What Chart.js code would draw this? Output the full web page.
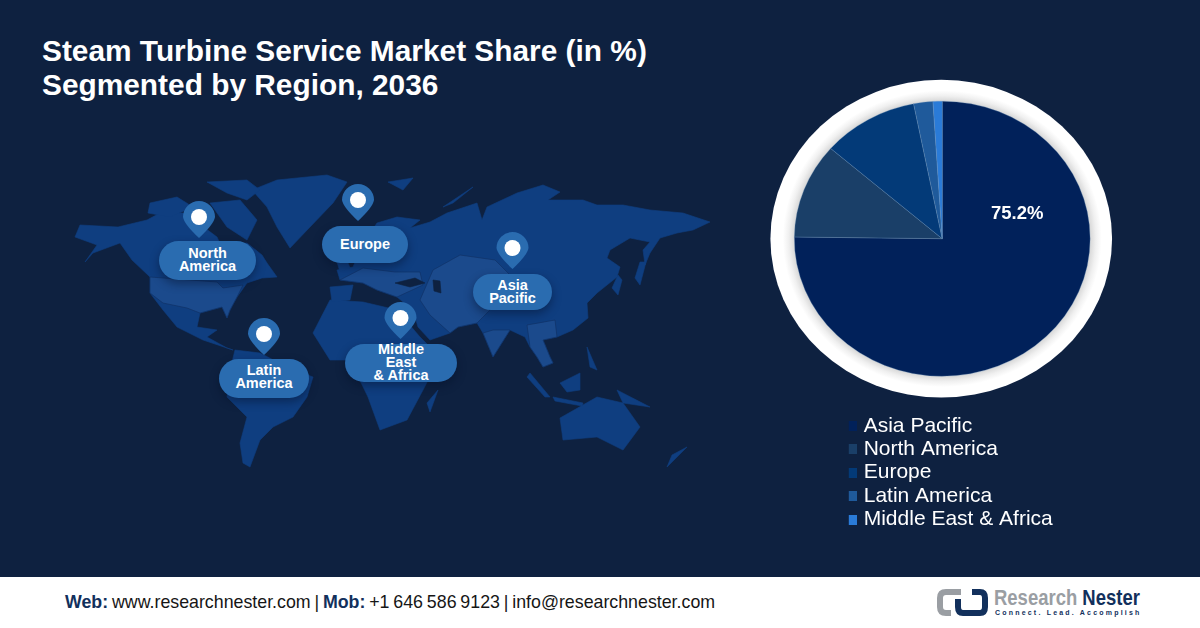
<!DOCTYPE html>
<html><head><meta charset="utf-8">
<script src="https://cdn.jsdelivr.net/npm/chart.js@4"></script>
<style>
html,body{margin:0;padding:0;width:1200px;height:628px;overflow:hidden;background:#0e2140;font-family:"Liberation Sans",Arial,sans-serif}
#map,#cv,.abs{position:absolute}
#map{left:0;top:0}
#cv{left:0;top:0}
h1{position:absolute;left:42px;top:34px;margin:0;color:#fff;font-size:29.85px;line-height:34px;font-weight:700;white-space:nowrap}
.pill{position:absolute;background:#2a6cb0;color:#fff;font-weight:700;font-size:14.5px;line-height:13px;text-align:center;display:flex;align-items:center;justify-content:center;box-shadow:0 4px 10px rgba(5,15,40,.45);box-sizing:border-box}
#foot{position:absolute;left:0;top:577px;width:1200px;height:51px;background:#fff}
#ftxt{position:absolute;left:65px;top:15px;font-size:17.8px;line-height:20px;color:#161616;white-space:nowrap;word-spacing:-1.1px}
#ftxt b{color:#12305c}
#brand{position:absolute;left:994px;top:9px;font-size:22px;line-height:24px;font-weight:700;color:#9a9ea3;white-space:nowrap;transform:scaleX(.84);transform-origin:left top}
#brand b{color:#12305c}
#tag{position:absolute;left:995px;top:31px;font-size:7px;line-height:10px;font-weight:700;color:#12305c;letter-spacing:2.2px;white-space:nowrap}
</style></head><body>
<svg id="map" width="1200" height="628"></svg>
<h1>Steam Turbine Service Market Share (in %)<br>Segmented by Region, 2036</h1>
<div id="pills"></div>
<canvas id="cv" width="1200" height="628"></canvas>
<div id="foot">
 <div id="ftxt"><b>Web:</b> www.researchnester.com | <b>Mob:</b> +1 646 586 9123 | info@researchnester.com</div>
 <svg style="position:absolute;left:936px;top:11px" width="54" height="30" viewBox="0 0 54 30" fill="none" stroke-width="6">
  <path d="M25 4H10Q4 4 4 10V19Q4 25 10 25H15" stroke="#9a9ea3"/>
  <path d="M36 4H44Q49 4 49 10V19Q49 25 44 25H27Q22 25 22 19V11" stroke="#12305c"/>
 </svg>
 <div id="brand">Research <b>Nester</b></div>
 <div id="tag">Connect. Lead. Accomplish</div>
</div>
<script>
const categories = ["Asia Pacific","North America","Europe","Latin America","Middle East & Africa"];
const shareValues = [75.2, 11.2, 10.5, 2.1, 1.0];
const sliceColors = ["#01215a","#1a3f68","#033a78","#1f5a9b","#2a7bd8"];
const valueLabel = "75.2%";

/* decorative world map backdrop */
const landBase = [
 [75,237,80,225,118,227,147,220,160,213,183,213,205,228,217,237,223,250,227,257,232,245,247,243,262,255,267,263,277,277,262,278,247,283,237,297,230,310,227,318,222,307,200,313,197,327,217,330,207,337,227,348,233,350,203,340,177,327,163,310,150,293,150,277,132,260,120,243,93,253,85,262,97,245],
 [252,190,277,180,327,175,347,182,333,203,310,227,290,248,277,227,267,207],
 [207,182,247,180,260,190,247,200,227,193],
 [150,203,177,197,193,207,170,217,148,213],
 [210,203,240,200,257,220,247,240,227,227],
 [235,350,260,353,287,367,313,377,307,397,293,417,273,427,260,440,250,467,243,463,240,443,247,417,227,397,230,370],
 [377,223,397,217,420,220,410,228,430,222,447,213,477,203,482,220,487,207,517,193,543,185,560,192,548,200,583,200,597,205,623,205,650,210,683,213,710,222,693,230,677,233,660,238,650,253,645,265,643,250,650,242,630,238,610,250,607,258,620,267,617,277,597,293,587,303,588,318,573,330,557,337,543,340,550,357,553,363,543,367,537,357,530,347,525,337,510,330,493,357,483,333,477,323,458,327,450,333,430,340,418,327,413,310,397,297,377,290,363,283,340,280,337,270,353,267,362,245],
 [330,300,363,302,397,310,420,337,440,357,423,390,407,420,380,430,368,397,350,360,330,360,313,333],
 [330,287,353,285,350,300,332,302],
 [438,390,430,412,427,403],
 [560,418,597,397,623,403,640,427,623,450,597,437,563,440],
 [687,447,667,467,672,455],
 [530,373,550,397,545,397,527,377],
 [553,397,583,403,582,406,555,401],
 [560,383,580,373,580,390,567,392],
 [617,390,650,407,623,403],
 [587,347,597,370,590,367],
 [443,207,473,187,453,203],
 [388,182,413,178,403,190],
 [337,262,345,255,350,268,340,272],
 [635,278,640,262,646,262,640,285],
 [612,288,618,275,622,280,618,295]
];
const landLight = [
 [150,277,217,282,223,288,243,285,237,297,230,310,227,318,222,307,200,313,187,308,163,303,150,293],
 [340,280,363,268,395,272,420,272,423,285,397,297,377,290,363,283],
 [433,270,460,255,495,260,510,275,480,290,490,310,477,323,458,327,450,333,430,315,420,300],
 [493,330,510,330,493,357,483,333],
 [527,325,555,320,557,337,543,340,550,357,553,363,543,367,537,357,530,347]
];
const innerSeas = [
 [395,283,415,278,425,283,410,287],
 [433,280,440,281,441,293,434,291]
];
const svgNS = "http://www.w3.org/2000/svg";
const mapEl = document.getElementById("map");
function addPoly(pts, fill, stroke){
  const p = document.createElementNS(svgNS,"polygon");
  p.setAttribute("points", pts.join(" "));
  p.setAttribute("fill", fill);
  p.setAttribute("stroke", stroke);
  p.setAttribute("stroke-width", ".6");
  p.setAttribute("stroke-linejoin","round");
  mapEl.appendChild(p);
}
landBase.forEach(s=>addPoly(s,"#0f3e80","#0f3e80"));
landLight.forEach(s=>addPoly(s,"#1b4a8c","#0f2f62"));
innerSeas.forEach(s=>addPoly(s,"#0e2140","#0e2140"));

/* location pins: label, pill box, pin centre */
const pinLabels = [
 {t:"North<br>America",x:159,y:241,w:97,h:39,cx:199,cy:217,dy:2},
 {t:"Europe",x:322,y:226,w:86,h:37,cx:358,cy:200,dy:0},
 {t:"Asia<br>Pacific",x:473,y:274,w:79,h:36,cx:512.5,cy:248,dy:0},
 {t:"Middle<br>East<br>&amp; Africa",x:345,y:344,w:112,h:38,cx:400.5,cy:318,dy:2},
 {t:"Latin<br>America",x:219,y:359,w:90,h:39,cx:264,cy:334,dy:4}
];
const pills = document.getElementById("pills");
pinLabels.forEach(p=>{
  const d = document.createElement("div");
  d.className="pill";
  d.style.cssText=`left:${p.x}px;top:${p.y}px;width:${p.w}px;height:${p.h}px;border-radius:${p.h/2}px;padding-bottom:${p.dy}px`;
  d.innerHTML=p.t;
  pills.appendChild(d);
  const s = document.createElementNS(svgNS,"path");
  s.setAttribute("d",`M${p.cx-16} ${p.cy}A16 16 0 1 1 ${p.cx+16} ${p.cy}Q${p.cx+15} ${p.cy+7} ${p.cx} ${p.cy+21}Q${p.cx-15} ${p.cy+7} ${p.cx-16} ${p.cy}Z`);
  s.setAttribute("fill","#2a6cb0");
  mapEl.appendChild(s);
  const c = document.createElementNS(svgNS,"circle");
  c.setAttribute("cx",p.cx);c.setAttribute("cy",p.cy);c.setAttribute("r",8);c.setAttribute("fill","#fff");
  mapEl.appendChild(c);
});

/* legend swatches: square image point styles so the gap to the text is as tight as in the picture */
function swatch(color){
  const c = document.createElement("canvas");
  c.width=10;c.height=10;
  const x = c.getContext("2d");
  x.fillStyle=color;x.fillRect(0,0,10,10);
  return c;
}

/* the pie is slightly squashed vertically in the picture */
const squash = 0.93;
const pieFrame = {
  id:"pieFrame",
  beforeDatasetsDraw(chart){
    const a = chart.getDatasetMeta(0).data[0];
    const ctx = chart.ctx;
    ctx.save();
    ctx.translate(a.x,a.y);ctx.scale(1,squash);ctx.translate(-a.x,-a.y);
    const R = a.outerRadius;
    ctx.beginPath();ctx.arc(a.x-1,a.y,R*1.155,0,Math.PI*2);
    const g = ctx.createRadialGradient(a.x,a.y,R,a.x,a.y,R*1.155);
    g.addColorStop(0,"#d8d8d8");g.addColorStop(.25,"#f0f0f0");g.addColorStop(.5,"#ffffff");g.addColorStop(1,"#ffffff");
    ctx.fillStyle=g;ctx.fill();
  },
  afterDatasetsDraw(chart){
    chart.ctx.restore();
    const a = chart.getDatasetMeta(0).data[0];
    const ctx = chart.ctx;
    ctx.save();
    ctx.fillStyle="#fff";ctx.font='700 18.5px "Liberation Sans"';ctx.textAlign="center";ctx.textBaseline="middle";
    ctx.fillText(valueLabel,a.x+75,a.y-25);
    ctx.restore();
  },
  afterLayout(chart){
    const l = chart.legend;
    const w = l.width,h = l.height;
    l.left=848.8;l.top=413;l.right=848.8+w;l.bottom=413+h;
  }
};
new Chart(document.getElementById("cv"),{
  type:"pie",
  data:{labels:categories,datasets:[{data:shareValues,backgroundColor:sliceColors,borderColor:"rgba(110,150,190,.45)",borderWidth:.7}]},
  plugins:[pieFrame],
  options:{
    responsive:false,animation:false,
    devicePixelRatio:1,
    layout:{padding:{left:580,right:109.5,top:90.4,bottom:241}},
    plugins:{
      tooltip:{enabled:false},
      legend:{position:"left",align:"start",
        labels:{color:"#fff",usePointStyle:true,pointStyleWidth:2,boxHeight:10,padding:2.4,
          font:{family:"Liberation Sans",size:21,lineHeight:1},
          generateLabels(chart){
            return Chart.overrides.pie.plugins.legend.labels.generateLabels(chart)
              .map((it,i)=>Object.assign(it,{pointStyle:swatch(sliceColors[i])}));
          }}}
    }
  }
});
</script>
</body></html>
